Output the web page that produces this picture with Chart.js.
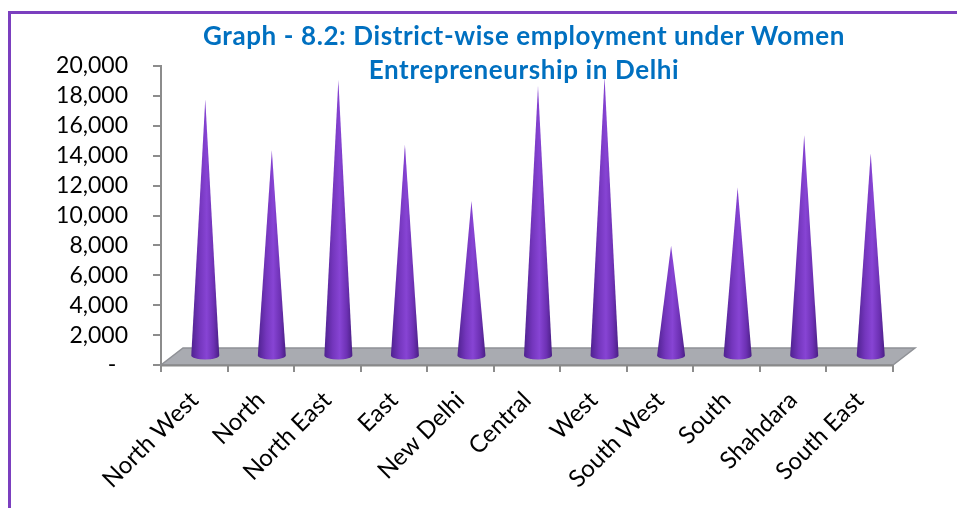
<!DOCTYPE html>
<html>
<head>
<meta charset="utf-8">
<script src="https://cdn.jsdelivr.net/npm/chart.js@4"></script>
<style>
  html, body { margin: 0; padding: 0; overflow: hidden; background: #fff; }
  #wrap { position: relative; width: 957px; height: 508px; overflow: hidden; }
  #frame {
    position: absolute; left: 8px; top: 11px; width: 1400px; height: 800px;
    border: 3px solid #7b3fbf; box-sizing: border-box; pointer-events: none;
  }
  #title {
    position: absolute; left: 174px; width: 700px; top: 18px;
    text-align: center; color: #0070c0; font: bold 26px Lato, sans-serif;
    letter-spacing: 0.6px; line-height: 34px; white-space: nowrap;
  }
  canvas { position: absolute; left: 0; top: 0; }
</style>
</head>
<body>
<div id="wrap">
  <canvas id="c" width="957" height="508"></canvas>
  <div id="frame"></div>
  <div id="title">Graph - 8.2: District-wise employment under Women<br>Entrepreneurship in Delhi</div>
</div>
<script>
// Districts of Delhi and persons employed under the scheme
const districts = ['North West', 'North', 'North East', 'East', 'New Delhi', 'Central',
                   'West', 'South West', 'South', 'Shahdara', 'South East'];
const employment = [17200, 13800, 18500, 14200, 10400, 18100, 18700, 7400, 11300, 14800, 13600];
const yTicks = [0, 2000, 4000, 6000, 8000, 10000, 12000, 14000, 16000, 18000, 20000];

// Perspective offset of the floor (back edge relative to front edge)
const DEPTH_X = 22, DEPTH_Y = 17;

const floorPlugin = {
  id: 'floor',
  beforeDatasetsDraw(chart) {
    const { ctx, chartArea, scales } = chart;
    const y0 = scales.y.getPixelForValue(0);
    const l = chartArea.left, r = chartArea.right;
    ctx.save();
    ctx.beginPath();
    ctx.moveTo(l, y0);
    ctx.lineTo(r, y0);
    ctx.lineTo(r + DEPTH_X, y0 - DEPTH_Y);
    ctx.lineTo(l + DEPTH_X, y0 - DEPTH_Y);
    ctx.closePath();
    ctx.fillStyle = '#a9abb1';
    ctx.fill();
    ctx.strokeStyle = '#8f9196';
    ctx.lineWidth = 1.5;
    ctx.stroke();
    ctx.beginPath();
    ctx.moveTo(l, y0 + 0.5);
    ctx.lineTo(r, y0 + 0.5);
    ctx.strokeStyle = '#8a8a8a';
    ctx.lineWidth = 2;
    ctx.stroke();
    ctx.restore();
  }
};

// Each bar element is rendered as a shaded cone standing mid-way into the floor
const conePlugin = {
  id: 'cones',
  afterDatasetsDraw(chart) {
    const { ctx } = chart;
    const meta = chart.getDatasetMeta(0);
    const ox = DEPTH_X / 2, oy = DEPTH_Y / 2;
    ctx.save();
    meta.data.forEach(bar => {
      const p = bar.getProps(['x', 'y', 'base', 'width'], true);
      const cx = p.x + ox, by = p.base - oy, ty = p.y - oy, hw = p.width / 2;
      const g = ctx.createLinearGradient(cx - hw, 0, cx + hw, 0);
      g.addColorStop(0, '#4f2290');
      g.addColorStop(0.3, '#7436bd');
      g.addColorStop(0.55, '#8744d4');
      g.addColorStop(0.8, '#6d31b4');
      g.addColorStop(1, '#4a1f85');
      ctx.beginPath();
      ctx.moveTo(cx - hw, by);
      ctx.lineTo(cx, ty);
      ctx.lineTo(cx + hw, by);
      ctx.ellipse(cx, by, hw, 4, 0, 0, Math.PI, false);
      ctx.closePath();
      ctx.fillStyle = g;
      ctx.fill();
    });
    ctx.restore();
  }
};

new Chart(document.getElementById('c'), {
  type: 'bar',
  data: {
    labels: districts,
    datasets: [{
      data: employment,
      backgroundColor: 'rgba(0,0,0,0)',
      borderWidth: 0,
      barThickness: 28
    }]
  },
  options: {
    responsive: false,
    devicePixelRatio: 1,
    animation: false,
    events: [],
    layout: { padding: { left: 0, top: 66, right: 64, bottom: 0 } },
    plugins: { legend: { display: false }, tooltip: { enabled: false }, title: { display: false } },
    scales: {
      y: {
        min: 0, max: 20000,
        afterFit(s) { s.width = 161; },
        afterBuildTicks(s) { s.ticks = yTicks.map(v => ({ value: v })); },
        ticks: {
          autoSkip: false,
          padding: 25,
          color: '#000',
          font: { family: 'Lato', size: 23 },
          callback: v => v === 0 ? '-  ' : v.toLocaleString('en-US')
        },
        grid: { drawOnChartArea: false, drawTicks: true, tickLength: 8, color: '#8c8c8c', lineWidth: 2 },
        border: { color: '#8c8c8c', width: 2 }
      },
      x: {
        afterFit(s) { s.height = 143; },
        ticks: {
          autoSkip: false, minRotation: 45, maxRotation: 45,
          padding: 14,
          color: '#000',
          font: { family: 'Lato', size: 24 }
        },
        grid: { offset: true, drawOnChartArea: false, drawTicks: true, tickLength: 7, color: '#8c8c8c', lineWidth: 2 },
        border: { color: '#8c8c8c', width: 2 }
      }
    }
  },
  plugins: [floorPlugin, conePlugin]
});
</script>
</body>
</html>
